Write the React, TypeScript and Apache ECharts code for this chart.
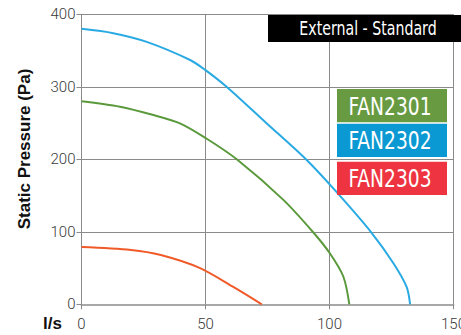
import React, { useEffect, useRef } from "react";
import * as echarts from "echarts";

const xTicks = [0, 50, 100, 150];
const yTicks = [0, 100, 200, 300, 400];

const fan2301Flow = [0, 15.5, 29, 39.7, 50.2, 62.6, 81.4, 93.5, 100.2, 105.6, 108];
const fan2301Pressure = [280, 272.5, 261, 249.6, 229, 200, 144, 99, 70, 38, 0];

const fan2302Flow = [0, 12.8, 26.3, 43.8, 50, 58.5, 74.5, 90.5, 102.8, 116.9, 125.7, 131.1, 132.5];
const fan2302Pressure = [380, 374, 362, 337, 323, 300, 250, 200, 155, 99, 57, 24, 0];

const fan2303Flow = [0, 20, 32, 47.8, 61.2, 72.7];
const fan2303Pressure = [79, 75, 68, 50, 24, 0];

const legendNames = ["FAN2301", "FAN2302", "FAN2303"];
const titleText = "External - Standard";

const pairs = (xs: number[], ys: number[]) => xs.map((x, i) => [x, ys[i]]);

const narrow = '"Liberation Sans Narrow", "DejaVu Sans Condensed", "Arial Narrow", sans-serif';

export default function App() {
  const ref = useRef<HTMLDivElement>(null);
  useEffect(() => {
    if (!ref.current) return;
    const chart = echarts.init(ref.current, null, { renderer: "svg" });
    const gridColor = "#8a8a8a";
    const lineSeries = (name: string, data: number[][], color: string) => ({
      name,
      type: "line",
      data,
      showSymbol: false,
      smooth: 0.3,
      lineStyle: { color, width: 2 },
      itemStyle: { color },
    });
    const legendColors = ["#679a41", "#0a99d2", "#ee3441"];
    const legendTops = [89, 123.7, 161.7];
    chart.setOption({
      animation: false,
      backgroundColor: "#ffffff",
      grid: {
        left: 81.5,
        right: 7.5,
        top: 14.3,
        bottom: 30.7,
        containLabel: false,
        outerBoundsMode: "none",
      },
      xAxis: {
        type: "value",
        min: xTicks[0],
        max: xTicks[xTicks.length - 1],
        interval: 50,
        axisLine: { show: true, lineStyle: { color: "#a8a8a8", width: 2 } },
        axisTick: { show: true, length: 5, lineStyle: { color: gridColor } },
        splitLine: { show: true, lineStyle: { color: gridColor, width: 1 } },
        axisLabel: {
          margin: 12,
          fontSize: 15,
          color: "#3a3a3a",
          fontFamily: "Roboto, sans-serif",
          fontWeight: 300,
        },
      },
      yAxis: {
        type: "value",
        min: yTicks[0],
        max: yTicks[yTicks.length - 1],
        interval: 100,
        axisLine: { show: true, lineStyle: { color: gridColor, width: 1 } },
        axisTick: { show: true, length: 5, lineStyle: { color: gridColor } },
        splitLine: { show: true, lineStyle: { color: gridColor, width: 1 } },
        axisLabel: {
          margin: 6,
          fontSize: 15,
          color: "#3a3a3a",
          fontFamily: "Roboto, sans-serif",
          fontWeight: 300,
        },
      },
      series: [
        lineSeries("FAN2303", pairs(fan2303Flow, fan2303Pressure), "#f05a28"),
        lineSeries("FAN2301", pairs(fan2301Flow, fan2301Pressure), "#5b9a3c"),
        lineSeries("FAN2302", pairs(fan2302Flow, fan2302Pressure), "#2aaae2"),
      ],
      graphic: [
        {
          type: "text",
          x: 24,
          y: 149,
          rotation: Math.PI / 2,
          style: {
            text: "Static Pressure (Pa)",
            fontSize: 17,
            fontWeight: "bold",
            fontFamily: "Liberation Sans, Arial, sans-serif",
            fill: "#111",
            align: "center",
            verticalAlign: "middle",
          },
        },
        {
          type: "text",
          x: 52.5,
          y: 323.5,
          style: {
            text: "l/s",
            fontSize: 17,
            fontWeight: "bold",
            fontFamily: "Liberation Sans, Arial, sans-serif",
            fill: "#111",
            align: "center",
            verticalAlign: "middle",
          },
        },
        {
          type: "rect",
          shape: { x: 268, y: 15, width: 193, height: 27 },
          style: { fill: "#000" },
          z: 100,
        },
        {
          type: "text",
          x: 368,
          y: 28.5,
          scaleX: 0.83,
          z: 101,
          style: {
            text: titleText,
            fontSize: 19,
            fontFamily: narrow,
            fill: "#fff",
            align: "center",
            verticalAlign: "middle",
          },
        },
        ...legendNames.flatMap((name, i) => [
          {
            type: "rect",
            shape: { x: 337, y: legendTops[i], width: 110, height: 33.3 },
            style: { fill: legendColors[i] },
            z: 100,
          },
          {
            type: "text",
            x: 390,
            y: legendTops[i] + 17,
            scaleX: 0.83,
            z: 101,
            style: {
              text: name,
              fontSize: 25,
              fontFamily: narrow,
              fill: "#fff",
              align: "center",
              verticalAlign: "middle",
            },
          },
        ]),
      ],
    });
    return () => chart.dispose();
  }, []);
  return (
    <div
      ref={ref}
      style={{ position: "fixed", left: 0, top: 0, width: 461, height: 335 }}
    />
  );
}
